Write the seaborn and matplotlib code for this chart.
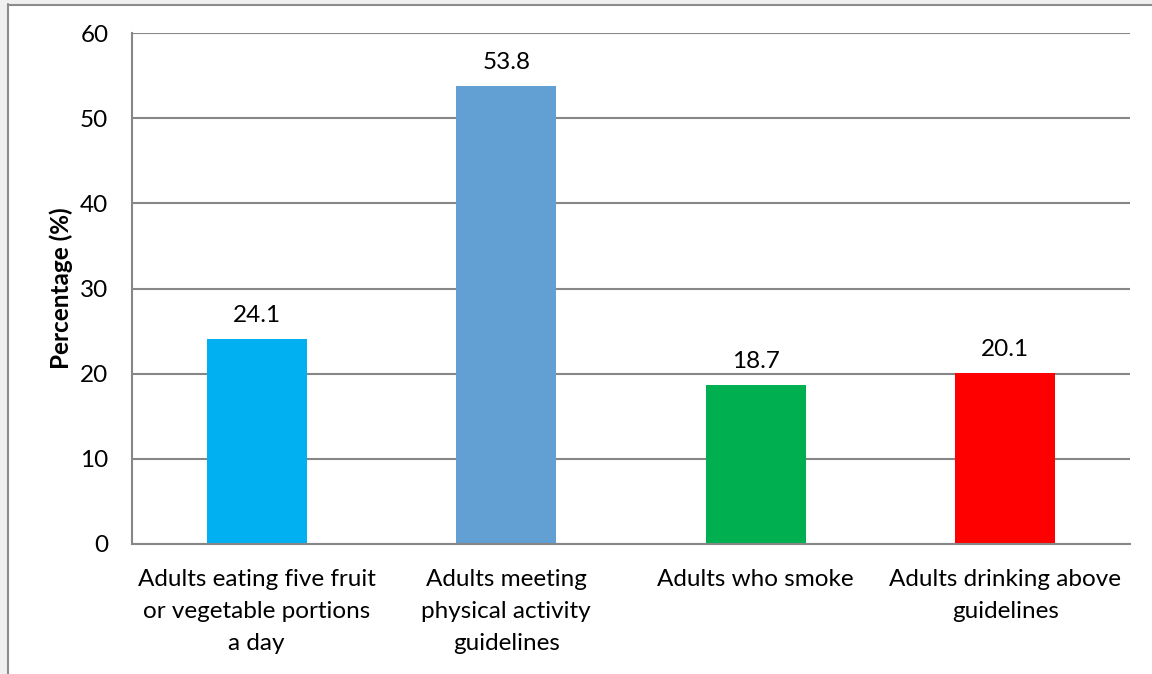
import matplotlib
matplotlib.use("Agg")
import matplotlib.pyplot as plt
import seaborn as sns
import pandas as pd
from matplotlib.patches import Rectangle

categories = [
    "Adults eating five fruit\nor vegetable portions\na day",
    "Adults meeting\nphysical activity\nguidelines",
    "Adults who smoke",
    "Adults drinking above\nguidelines",
]
values = [24.1, 53.8, 18.7, 20.1]
bar_colors = ["#00B0F0", "#629FD3", "#00B050", "#FF0000"]
y_ticks = [0, 10, 20, 30, 40, 50, 60]

df = pd.DataFrame({"Category": categories, "Value": values})

sns.set_style("white")
plt.rcParams["font.family"] = ["Lato", "DejaVu Sans"]
plt.rcParams["text.color"] = "black"

FS = 17.5

fig = plt.figure(figsize=(11.52, 6.74), dpi=100)
ax = fig.add_axes([132 / 1152, 1 - 544 / 674, (1130 - 132) / 1152, (544 - 33) / 674])

sns.barplot(data=df, x="Category", y="Value", hue="Category", palette=bar_colors,
            width=0.4, legend=False, ax=ax, saturation=1, linewidth=0)

for c in ax.containers:
    ax.bar_label(c, fmt="%.1f", padding=9, fontsize=FS, color="black")

ax.set_ylim(0, 60)
ax.set_yticks(y_ticks)
ax.set_xlim(-0.5, 3.5)
ax.yaxis.grid(True, color="#878787", linewidth=1.5)
ax.set_axisbelow(True)
for s in ["top", "right"]:
    ax.spines[s].set_visible(False)
for s in ["left", "bottom"]:
    ax.spines[s].set_color("#878787")
    ax.spines[s].set_linewidth(1.5)
ax.tick_params(axis="both", length=0, labelsize=FS, colors="black")
ax.tick_params(axis="y", pad=17)
ax.tick_params(axis="x", pad=18)
for t in ax.get_xticklabels():
    t.set_linespacing(1.65)
ax.set_xlabel("")
ax.set_ylabel("Percentage (%)", fontsize=FS, fontweight="bold", labelpad=5, color="black")

# outer chart frame like the spreadsheet export
fig.patches.append(Rectangle((0, 0), 7 / 1152, 1, transform=fig.transFigure,
                             facecolor="#F0F0F0", edgecolor="none", zorder=0))
fig.patches.append(Rectangle((0, 1 - 4 / 674), 1, 4 / 674, transform=fig.transFigure,
                             facecolor="#F0F0F0", edgecolor="none", zorder=0))
fig.add_artist(plt.Line2D([7.5 / 1152, 7.5 / 1152], [0, 1 - 4 / 674], transform=fig.transFigure,
                          color="#8C8C8C", linewidth=1.5))
fig.add_artist(plt.Line2D([7.5 / 1152, 1], [1 - 4.5 / 674, 1 - 4.5 / 674], transform=fig.transFigure,
                          color="#8C8C8C", linewidth=1.5))

fig.savefig("out.png", dpi=100)
